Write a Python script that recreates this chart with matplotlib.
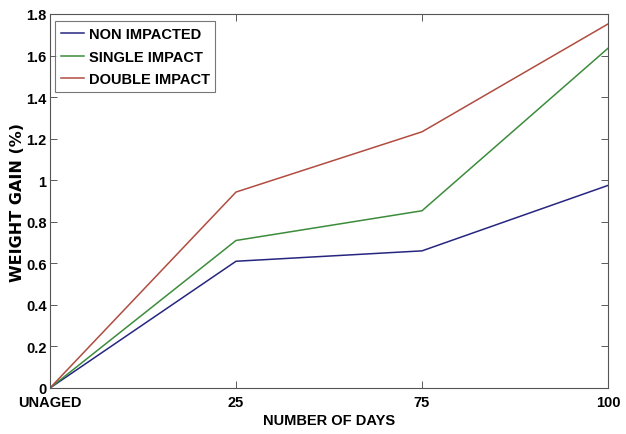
import matplotlib
matplotlib.use("Agg")
import matplotlib.pyplot as plt
import numpy as np

# Weight gain after ageing, per impact condition
days = ["UNAGED", "25", "75", "100"]
non_impacted = [0.0, 0.61, 0.66, 0.975]
single_impact = [0.0, 0.71, 0.853, 1.635]
double_impact = [0.0, 0.943, 1.233, 1.752]

plt.rcParams['font.family'] = ['Liberation Sans', 'DejaVu Sans']
plt.rcParams['font.weight'] = 'bold'

fig = plt.figure(figsize=(6.26, 4.35), dpi=100)
ax = fig.add_axes([50 / 626, 1 - 389 / 435, 558 / 626, 374 / 435])

x = np.arange(len(days))
ax.plot(x, non_impacted, color='#262680', lw=1.1, label='NON IMPACTED')
ax.plot(x, single_impact, color='#3c8c3c', lw=1.1, label='SINGLE IMPACT')
ax.plot(x, double_impact, color='#b04c40', lw=1.1, label='DOUBLE IMPACT')

ax.set_xlim(0, 3)
ax.set_ylim(0, 1.8)
ax.set_xticks(x)
ax.set_xticklabels(days)
ax.set_yticks(np.arange(0, 1.81, 0.2))
ax.set_yticklabels(['0', '0.2', '0.4', '0.6', '0.8', '1', '1.2', '1.4', '1.6', '1.8'])
ax.tick_params(direction='in', top=True, right=True, length=5, width=0.6,
               labelsize=10.5, color='#404040')
ax.tick_params(axis='x', pad=5)
ax.tick_params(axis='y', pad=2.5)
for s in ax.spines.values():
    s.set_linewidth(0.8)
    s.set_color('#555555')

ax.set_xlabel('NUMBER OF DAYS', fontsize=10.5, fontweight='bold', labelpad=3)
ax.set_ylabel('WEIGHT GAIN (%)', fontsize=11.5, fontweight='bold', labelpad=1,
              family=['DejaVu Sans'])

leg = ax.legend(loc='upper left', fontsize=10.5, handlelength=1.6, handletextpad=0.3,
                borderpad=0.4, labelspacing=0.6, fancybox=False,
                bbox_to_anchor=(0.009, 0.981), borderaxespad=0)
leg.get_frame().set_edgecolor('#555555')
leg.get_frame().set_linewidth(0.8)

fig.savefig('out.png', dpi=100)
